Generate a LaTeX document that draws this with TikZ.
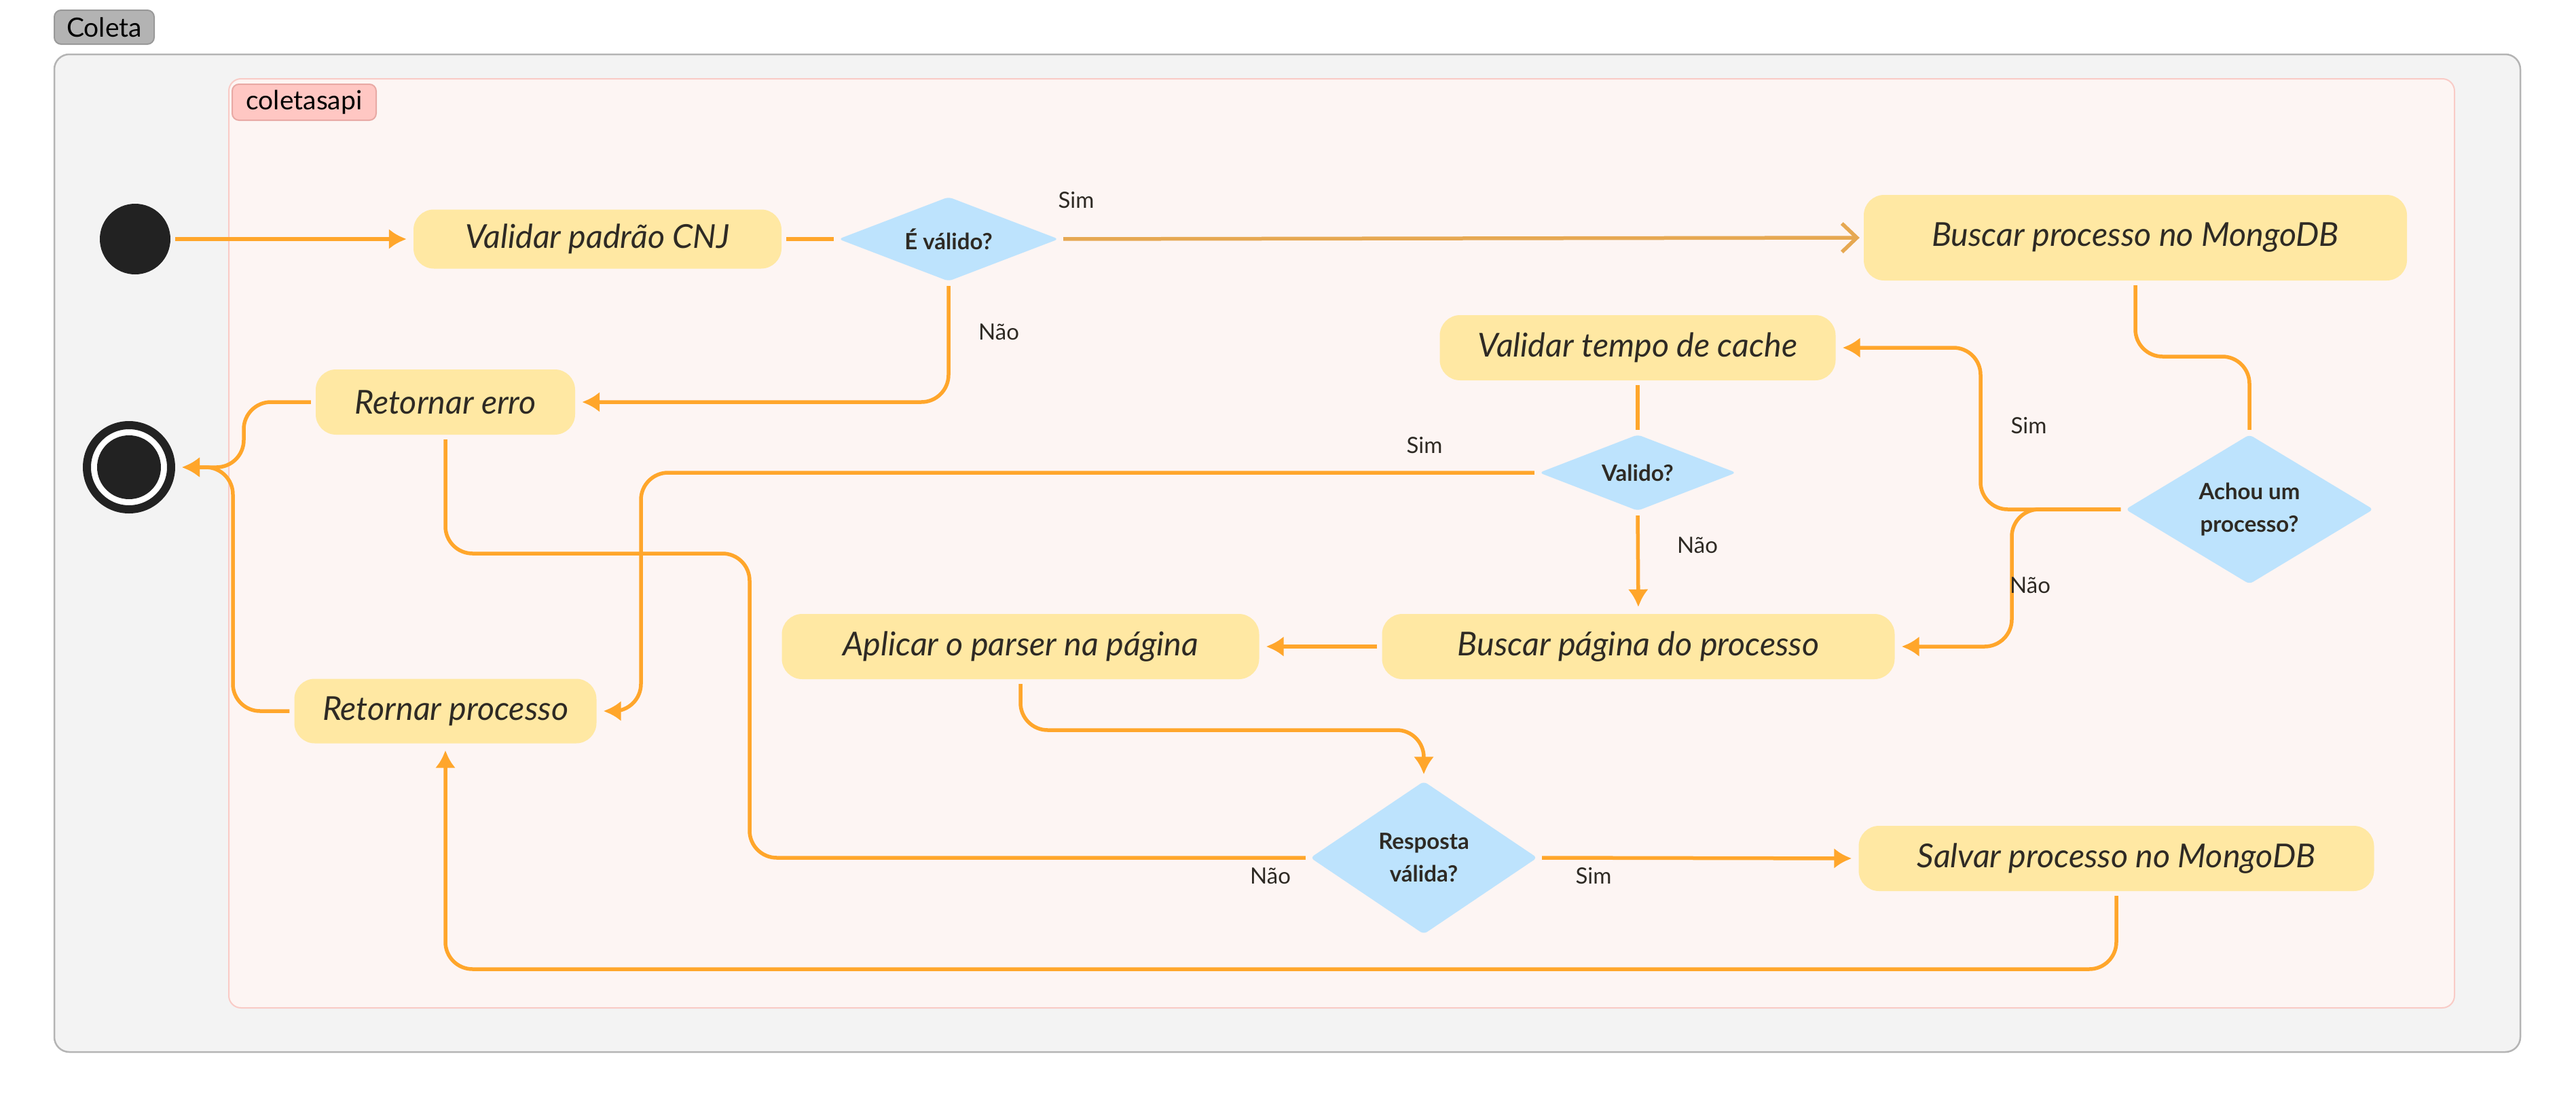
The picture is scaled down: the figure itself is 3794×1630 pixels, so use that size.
\documentclass[tikz,border=0pt]{standalone}
\usepackage{fontspec}
\setmainfont{Lato}
\usetikzlibrary{shapes.geometric,arrows.meta}
\definecolor{flowc}{HTML}{FFA62B}
\definecolor{simc}{HTML}{E6A852}
\definecolor{boxc}{HTML}{FFE8A3}
\definecolor{decc}{HTML}{BDE3FD}
\definecolor{txtc}{HTML}{2E2A24}
\definecolor{outerfill}{HTML}{F3F3F3}
\definecolor{outerdraw}{HTML}{B4B4B4}
\definecolor{pinkfill}{HTML}{FDF5F3}
\definecolor{pinkdraw}{HTML}{F9CBC6}
\definecolor{tagpink}{HTML}{FFC7C3}
\definecolor{tagpinkd}{HTML}{E8A9A4}
\definecolor{taggray}{HTML}{B3B3B3}
\definecolor{taggrayd}{HTML}{999999}
\definecolor{blk}{HTML}{222222}
\begin{document}
\begin{tikzpicture}[x=1pt,y=-1pt,
  act/.style={rectangle, rounded corners=30pt, fill=boxc, text=txtc, font=\fontsize{48.5}{54}\selectfont\itshape, inner sep=0pt},
  dec/.style={diamond, fill=decc, text=txtc, font=\fontsize{33}{48}\selectfont\bfseries, inner sep=0pt, align=center, rounded corners=6pt},
  lbl/.style={text=txtc, font=\fontsize{33}{38}\selectfont, inner sep=0pt},
  tag/.style={rectangle, rounded corners=10pt, line width=2pt, text=black, font=\fontsize{39}{44}\selectfont, inner sep=0pt},
  flow/.style={draw=flowc, line width=5.5pt, rounded corners=40pt, shorten <=7pt, shorten >=10pt, -{Latex[length=26pt,width=30pt]}},
  link/.style={draw=flowc, line width=5.5pt, rounded corners=40pt, shorten <=7pt, shorten >=7pt},
]
\useasboundingbox (0,0) rectangle (3794,1630);
\fill[white] (0,0) rectangle (3794,1630);
% containers
\node[draw=outerdraw, fill=outerfill, rounded corners=22pt, line width=2.5pt, minimum width=3632pt, minimum height=1469pt, inner sep=0pt] (coleta) at (1896,814.5) {};
\node[tag, draw=taggrayd, fill=taggray, minimum width=147pt, minimum height=50pt] (coletatag) at (153.5,40) {Coleta};
\node[draw=pinkdraw, fill=pinkfill, rounded corners=18pt, line width=2pt, minimum width=3278pt, minimum height=1368pt, inner sep=0pt] (api) at (1976,800) {};
\node[tag, draw=tagpinkd, fill=tagpink, minimum width=212pt, minimum height=53pt] (apitag) at (448,150.5) {coletasapi};
% start / stop
\node[circle, fill=blk, minimum size=104pt, inner sep=0pt] (start) at (199,352) {};
\node[circle, draw=blk, line width=12pt, fill=white, minimum size=124pt, inner sep=0pt] (stop) at (190,688) {};
\node[circle, fill=blk, minimum size=94pt, inner sep=0pt] (stopin) at (190,688) {};
% activities
\node[act, minimum width=542pt, minimum height=87pt] (cnj) at (880,352) {Validar padrão CNJ};
\node[act, minimum width=800pt, minimum height=126pt] (mongo) at (3145,350) {Buscar processo no MongoDB};
\node[act, minimum width=382pt, minimum height=96pt] (erro) at (656,592) {Retornar erro};
\node[act, minimum width=583pt, minimum height=96pt] (tempo) at (2412,512) {Validar tempo de cache};
\node[act, minimum width=755pt, minimum height=96pt] (pagina) at (2413,952) {Buscar página do processo};
\node[act, minimum width=703pt, minimum height=96pt] (aplicar) at (1503,952) {Aplicar o parser na página};
\node[act, minimum width=445pt, minimum height=95pt] (retproc) at (656,1047) {Retornar processo};
\node[act, minimum width=759pt, minimum height=96pt] (salvar) at (3117,1264) {Salvar processo no MongoDB};
% decisions
\node[dec, shape aspect=2.6, minimum width=324pt, minimum height=124pt] (dec1) at (1397,352) {É válido?};
\node[dec, shape aspect=2.6, minimum width=290pt, minimum height=112pt] (valido) at (2412,696) {Valido?};
\node[dec, shape aspect=1.66, minimum width=365pt, minimum height=220pt] (achou) at (3313,750) {Achou um\\processo?};
\node[dec, shape aspect=1.48, minimum width=334pt, minimum height=225pt] (resp) at (2097,1263) {Resposta\\válida?};
% connectors
\draw[flow] (start.east) -- (cnj.west);
\draw[link] (cnj.east) -- (dec1.west);
\draw[link, draw=simc, shorten >=6pt, -{Straight Barb[length=22pt,width=42pt]}] (dec1.east) -- (mongo.west);
\draw[flow] (dec1.south) |- (erro.east);
\draw[flow] (erro.west) -| (359,688) -- (stop.east);
\draw[flow] (retproc.west) -| (343,688) -- (stop.east);
\draw[link] (mongo.south) -- (3145,525) -| (achou.north);
\draw[flow] (achou.west) -| (2917,512) -- (tempo.east);
\draw[flow] (achou.west) -| (2963,952) -- (pagina.east);
\draw[link] (tempo.south) -- (valido.north);
\draw[flow] (valido.west) -| (944,1047) -- (retproc.east);
\draw[flow] (valido.south) -- (pagina.north);
\draw[flow] (pagina.west) -- (aplicar.east);
\draw[flow] (aplicar.south) -- (1503,1075) -| (resp.north);
\draw[flow] (resp.east) -- (salvar.west);
\draw[link] (resp.west) -| (1104,815) -| (erro.south);
\draw[flow] (salvar.south) -- (3117,1427) -| (retproc.south);
% labels
\node[lbl] (l1) at (1585,295) {Sim};
\node[lbl] (l2) at (1471,489) {Não};
\node[lbl] (l3) at (2988,627) {Sim};
\node[lbl] (l4) at (2990,862) {Não};
\node[lbl] (l5) at (2098,656) {Sim};
\node[lbl] (l6) at (2500,803) {Não};
\node[lbl] (l7) at (2347,1290) {Sim};
\node[lbl] (l8) at (1871,1290) {Não};
\end{tikzpicture}
\end{document}
